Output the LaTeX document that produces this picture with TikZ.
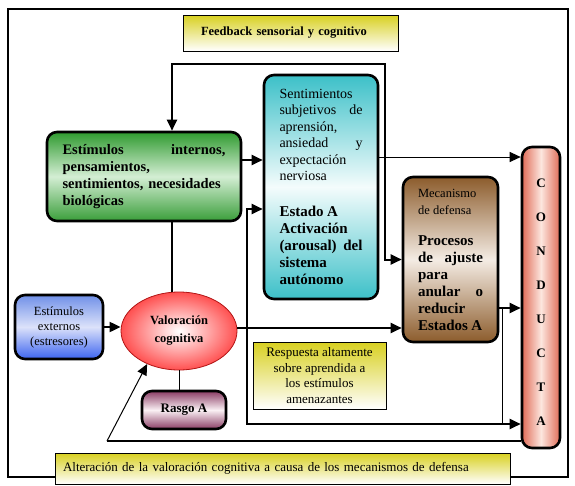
\documentclass[tikz,border=0pt]{standalone}
\usepackage{fontspec}
\setmainfont{Liberation Serif}
\usetikzlibrary{arrows.meta,shapes.geometric}
\definecolor{yel}{HTML}{D8D020}
\definecolor{gdark}{HTML}{2F9A2F}
\definecolor{glight}{HTML}{D4EED4}
\definecolor{gbot}{HTML}{3A9E3A}
\definecolor{cy}{HTML}{3CC0C8}
\definecolor{cylight}{HTML}{F4FCFC}
\definecolor{br}{HTML}{8C5C2C}
\definecolor{brlight}{HTML}{F4ECE4}
\definecolor{bl}{HTML}{7090E8}
\definecolor{bllight}{HTML}{DCE2FA}
\definecolor{blbot}{HTML}{3C64F0}
\definecolor{mar}{HTML}{8A3C64}
\definecolor{marlight}{HTML}{FAF0F4}
\definecolor{sal}{HTML}{E06C58}
\definecolor{sallight}{HTML}{FCE6DE}
\definecolor{rd}{RGB}{255,30,30}
\pgfdeclareradialshading{redball}{\pgfpoint{0bp}{0bp}}{color(0bp)=(white); color(5bp)=(white!85!rd); color(32bp)=(rd); color(50bp)=(rd)}
\begin{document}
\begin{tikzpicture}[x=1pt,y=-1pt,
  box/.style={draw, line width=2.6pt, rounded corners=10pt, inner sep=0pt},
  ybox/.style={draw, line width=0.9pt, top color=yel, bottom color=white, inner sep=0pt},
  conn/.style={line width=2pt},
  thinconn/.style={line width=1pt},
  tip/.style={-{Triangle[length=11pt,width=10pt]}},
  twotip/.style={{Triangle[length=11pt,width=10pt]}-{Triangle[length=11pt,width=10pt]}}
]
\useasboundingbox (0,0) rectangle (575,485);
\draw[line width=2.5pt] (8,9) rectangle (568,477);

\node[ybox, minimum width=215pt, minimum height=36pt, text width=179pt, inner xsep=18pt, align=left,
  font=\bfseries\fontsize{12.5}{15}\selectfont] (fb) at (290.5,33) {Feedback sensorial y cognitivo};

\node[box, minimum width=194pt, minimum height=89pt, top color=gdark, bottom color=gbot, middle color=glight,
  text width=163pt, align=left, font=\bfseries\fontsize{14.5}{17}\selectfont] (green) at (144,176.5)
  {Estímulos\hfill internos,\\pensamientos,\\\mbox{sentimientos, necesidades}\\biológicas\par};

\node[box, minimum width=114pt, minimum height=224pt, top color=cy, bottom color=cy, middle color=cylight,
  text width=83pt, align=left] (cyan) at (321,187)
  {\fontsize{14}{16.5}\selectfont Sentimientos\\subjetivos\hfill de\\aprensión,\\ansiedad\hfill y\\expectación\\nerviosa\par\vspace{19pt}%
   \fontsize{15}{17}\selectfont\bfseries Estado A\\Activación\\(arousal)\hfill del\\sistema\\autónomo\par};

\node[box, minimum width=95pt, minimum height=165pt, top color=br, bottom color=br, middle color=brlight,
  text width=65pt, align=left] (mec) at (450.5,259.5)
  {\fontsize{12.5}{17}\selectfont Mecanismo\\de defensa\par\vspace{14pt}%
   \fontsize{15}{17}\selectfont\bfseries Procesos\\de\hfill ajuste\\para\\anular\hfill o\\reducir\\Estados A\par};

\node[box, minimum width=38pt, minimum height=301pt, left color=sal, right color=sal, middle color=sallight,
  align=center, text depth=7pt, font=\bfseries\fontsize{13}{34}\selectfont] (cond) at (541,297.5)
  {\rule{0pt}{25pt}C\\O\\N\\D\\U\\C\\T\\A};

\node[box, minimum width=88pt, minimum height=64pt, top color=bl, bottom color=blbot, middle color=bllight,
  align=center, font=\fontsize{12.5}{15}\selectfont] (ext) at (59,327) {Estímulos\\externos\\(estresores)};

\node[ellipse, draw=rd!70!black, line width=0.8pt, minimum width=116pt, minimum height=78pt, inner sep=0pt,
  shading=redball, align=center, font=\bfseries\fontsize{12.5}{18}\selectfont] (val) at (179,331)
  {Valoración\\cognitiva};

\node[box, minimum width=84pt, minimum height=38pt, top color=mar, bottom color=mar, middle color=marlight,
  font=\bfseries\fontsize{13}{15}\selectfont] (rasgo) at (184,410) {Rasgo A};

\node[ybox, minimum width=133pt, minimum height=67pt, align=center, font=\fontsize{13}{15.5}\selectfont]
  (resp) at (319.5,375.5) {Respuesta altamente\\sobre aprendida a\\los estímulos\\amenazantes};

\node[ybox, minimum width=455pt, minimum height=31pt, text width=439pt, inner xsep=8pt, align=left,
  font=\fontsize{13}{15}\selectfont] (alt) at (282.5,468.5)
  {Alteración de la valoración cognitiva a causa de los mecanismos de defensa};

% connectors
\coordinate (fbL) at (172,64);
\coordinate (fbR) at (385,64);
\draw[conn, twotip] (green.north -| fbL) -- (fbL) -- (fbR) |- (mec.west);

\coordinate (g1) at (0,160);
\draw[conn, tip] (green.east |- g1) -- (cyan.west |- g1);

\coordinate (w1) at (247,209);
\coordinate (w2) at (247,424);
\draw[conn, twotip] (cyan.west |- w1) -- (w1) -- (w2) -- (cond.west |- w2);

\coordinate (c1) at (0,157);
\draw[thinconn, tip] (cyan.east |- c1) -- (cond.west |- c1);

\coordinate (m1) at (502,308);
\draw[conn, tip] (mec.east |- m1) -- (cond.west |- m1);
\draw[thinconn] (m1) -- (m1 |- w2);

\draw[conn, tip] (ext.east) -- (ext.east -| val.west);

\coordinate (v1) at (0,328);
\draw[conn, tip] (val.east |- v1) -- (mec.west |- v1);

\draw[conn] (green.south -| fbL) -- (val.north -| fbL);
\draw[thinconn] (val.south) -- (rasgo.north -| val.south);

\coordinate (d1) at (107,441);
\draw[conn] (cond.west |- d1) -- (d1);
\draw[thinconn, tip] (d1) -- (val.226);
\end{tikzpicture}
\end{document}
